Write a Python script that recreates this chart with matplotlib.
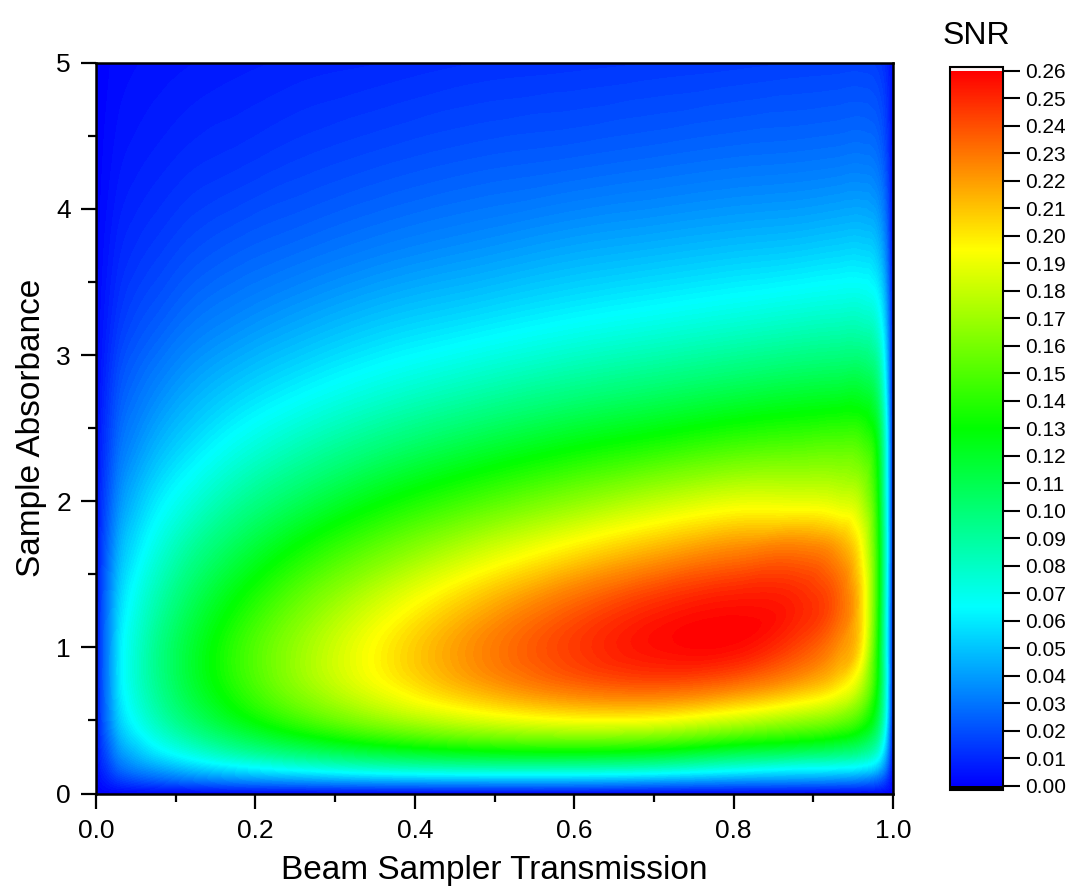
import numpy as np
import matplotlib
matplotlib.use("Agg")
import matplotlib.pyplot as plt
from matplotlib.colors import LinearSegmentedColormap, Normalize
from matplotlib.cm import ScalarMappable
from matplotlib.tri import Triangulation, UniformTriRefiner, CubicTriInterpolator
from matplotlib.ticker import MultipleLocator, FixedLocator, FuncFormatter

# ---------------- data ----------------
transmission = [0, 0.005, 0.015, 0.03, 0.05, 0.08, 0.12, 0.18, 0.26, 0.36, 0.48,
                0.6, 0.7, 0.8, 0.88, 0.93, 0.96, 0.98, 0.99, 0.996, 1.0]
absorbance = [0, 0.04, 0.1, 0.18, 0.3, 0.5, 0.75, 1.0, 1.3, 1.65, 2.0,
              2.4, 2.8, 3.25, 3.75, 4.35, 5.0]

snr_a0_00 = [0]*21
snr_a0_04 = [0, 0.0017, 0.004, 0.007, 0.009, 0.011, 0.013, 0.016, 0.018, 0.020, 0.021, 0.021, 0.019, 0.017, 0.016, 0.015, 0.014, 0.012, 0.008, 0.004, 0]
snr_a0_10 = [0, 0.004, 0.009, 0.016, 0.021, 0.026, 0.032, 0.038, 0.043, 0.048, 0.050, 0.050, 0.047, 0.042, 0.040, 0.038, 0.035, 0.028, 0.018, 0.008, 0]
snr_a0_18 = [0, 0.007, 0.015, 0.027, 0.035, 0.043, 0.052, 0.062, 0.072, 0.081, 0.086, 0.086, 0.083, 0.074, 0.068, 0.066, 0.062, 0.052, 0.034, 0.015, 0]
snr_a0_30 = [0, 0.010, 0.022, 0.039, 0.050, 0.063, 0.076, 0.092, 0.107, 0.121, 0.131, 0.134, 0.130, 0.118, 0.112, 0.106, 0.098, 0.080, 0.052, 0.024, 0]
snr_a0_50 = [0, 0.013, 0.030, 0.052, 0.067, 0.084, 0.102, 0.124, 0.146, 0.167, 0.184, 0.193, 0.192, 0.180, 0.168, 0.158, 0.142, 0.112, 0.072, 0.033, 0]
snr_a0_75 = [0, 0.014, 0.033, 0.059, 0.076, 0.095, 0.116, 0.141, 0.168, 0.194, 0.218, 0.234, 0.239, 0.232, 0.218, 0.203, 0.178, 0.130, 0.080, 0.036, 0]
snr_a1_00 = [0, 0.014, 0.033, 0.059, 0.076, 0.096, 0.117, 0.143, 0.170, 0.198, 0.225, 0.245, 0.256, 0.257, 0.242, 0.224, 0.200, 0.135, 0.078, 0.035, 0]
snr_a1_30 = [0, 0.013, 0.031, 0.054, 0.070, 0.088, 0.108, 0.132, 0.158, 0.185, 0.212, 0.234, 0.248, 0.255, 0.251, 0.236, 0.205, 0.140, 0.080, 0.036, 0]
snr_a1_65 = [0, 0.011, 0.026, 0.046, 0.059, 0.075, 0.092, 0.112, 0.135, 0.158, 0.182, 0.202, 0.216, 0.227, 0.231, 0.222, 0.196, 0.140, 0.083, 0.038, 0]
snr_a2_00 = [0, 0.009, 0.021, 0.037, 0.048, 0.061, 0.074, 0.091, 0.109, 0.129, 0.148, 0.165, 0.178, 0.188, 0.188, 0.185, 0.175, 0.135, 0.080, 0.037, 0]
snr_a2_40 = [0, 0.007, 0.016, 0.028, 0.036, 0.046, 0.056, 0.069, 0.083, 0.098, 0.113, 0.126, 0.135, 0.144, 0.148, 0.150, 0.147, 0.125, 0.078, 0.036, 0]
snr_a2_80 = [0, 0.005, 0.012, 0.021, 0.027, 0.034, 0.042, 0.051, 0.061, 0.072, 0.083, 0.093, 0.100, 0.107, 0.112, 0.114, 0.114, 0.100, 0.065, 0.030, 0]
snr_a3_25 = [0, 0.0035, 0.008, 0.014, 0.0185, 0.023, 0.029, 0.035, 0.042, 0.050, 0.057, 0.064, 0.069, 0.074, 0.078, 0.080, 0.080, 0.072, 0.050, 0.024, 0]
snr_a3_75 = [0, 0.0023, 0.0053, 0.0093, 0.012, 0.015, 0.019, 0.023, 0.027, 0.032, 0.037, 0.042, 0.045, 0.048, 0.050, 0.052, 0.0525, 0.048, 0.034, 0.016, 0]
snr_a4_35 = [0, 0.0013, 0.003, 0.0054, 0.007, 0.0088, 0.011, 0.013, 0.016, 0.019, 0.022, 0.024, 0.026, 0.028, 0.029, 0.030, 0.0306, 0.028, 0.020, 0.010, 0]
snr_a5_00 = [0, 0.0007, 0.0017, 0.0029, 0.0038, 0.0048, 0.0059, 0.0072, 0.0087, 0.010, 0.012, 0.013, 0.014, 0.015, 0.016, 0.0164, 0.0166, 0.015, 0.011, 0.006, 0]

snr_rows = [snr_a0_00, snr_a0_04, snr_a0_10, snr_a0_18, snr_a0_30, snr_a0_50,
            snr_a0_75, snr_a1_00, snr_a1_30, snr_a1_65, snr_a2_00, snr_a2_40,
            snr_a2_80, snr_a3_25, snr_a3_75, snr_a4_35, snr_a5_00]

x_ticks = [0.0, 0.2, 0.4, 0.6, 0.8, 1.0]
x_ticklabels = ["0.0", "0.2", "0.4", "0.6", "0.8", "1.0"]
y_ticks = [0, 1, 2, 3, 4, 5]
cbar_ticks = [i / 100 for i in range(27)]
snr_min, snr_max = 0.0, 0.26

# ---------------- style ----------------
plt.rcParams['font.family'] = ['Liberation Sans', 'DejaVu Sans']

cmap = LinearSegmentedColormap.from_list(
    "origin_rainbow", ["#0000ff", "#00ffff", "#00ff00", "#ffff00", "#ff0000"], N=512)
cmap.set_over("#fff4f4")
cmap.set_under("#000000")
norm = Normalize(vmin=snr_min, vmax=snr_max)

fig = plt.figure(figsize=(10.68, 8.92), dpi=100)
ax = fig.add_axes([96/1068, 1 - 793.5/892, (893-96)/1068, (793.5-62.7)/892])

# ---------------- field ----------------
T = np.asarray(transmission)
A = np.asarray(absorbance)
Z = np.asarray(snr_rows, dtype=float)
nx, ny = len(T), len(A)
TT, AA = np.meshgrid(T, A)

tris = []
for j in range(ny - 1):
    for i in range(nx - 1):
        p = j * nx + i
        tris.append([p, p + 1, p + nx + 1])
        tris.append([p, p + nx + 1, p + nx])
tris = np.array(tris)

tri_n = Triangulation(TT.ravel(), AA.ravel() / 5.0, tris)
interp = CubicTriInterpolator(tri_n, Z.ravel(), kind='geom')
refiner = UniformTriRefiner(tri_n)
tri_r, z_r = refiner.refine_field(Z.ravel(), triinterpolator=interp, subdiv=3)
tri_plot = Triangulation(tri_r.x, tri_r.y * 5.0, tri_r.triangles)
z_r = np.clip(z_r, 0.0, snr_max - 1e-6)

levels = np.linspace(snr_min - 1e-9, snr_max, 131)
cs = ax.tricontourf(tri_plot, z_r, levels=levels, cmap=cmap, norm=norm,
                    antialiased=False)

ax.set_xlim(0, 1)
ax.set_ylim(0, 5)

ax.xaxis.set_major_locator(FixedLocator(x_ticks))
ax.set_xticklabels(x_ticklabels)
ax.xaxis.set_minor_locator(MultipleLocator(0.1))
ax.yaxis.set_major_locator(FixedLocator(y_ticks))
ax.yaxis.set_minor_locator(MultipleLocator(0.5))

ax.tick_params(which='both', direction='out', top=False, right=False, width=1.6)
ax.tick_params(which='major', length=11, labelsize=19, pad=7)
ax.tick_params(which='minor', length=6)
for s in ax.spines.values():
    s.set_linewidth(1.8)
    s.set_zorder(5)

ax.set_xlabel("Beam Sampler Transmission", fontsize=24, labelpad=9)
ax.set_ylabel("Sample Absorbance", fontsize=24, labelpad=7)

# ---------------- colorbar ----------------
cax = fig.add_axes([950/1068, 1 - 790/892, 53/1068, (790-66.5)/892])
sm = ScalarMappable(norm=norm, cmap=cmap)
cb = fig.colorbar(sm, cax=cax, extend='both', extendrect=True, extendfrac=0.006,
                  ticks=cbar_ticks)
cb.ax.yaxis.set_major_formatter(FuncFormatter(lambda v, p: f"{v:.2f}"))
cb.ax.tick_params(direction='out', length=12, width=1.5, labelsize=15, pad=4)
cb.ax.minorticks_off()
cb.outline.set_linewidth(1.5)

fig.text(976/1068, 1 - 36/892, "SNR", ha='center', va='center', fontsize=23)

fig.savefig("out.png", dpi=100)
